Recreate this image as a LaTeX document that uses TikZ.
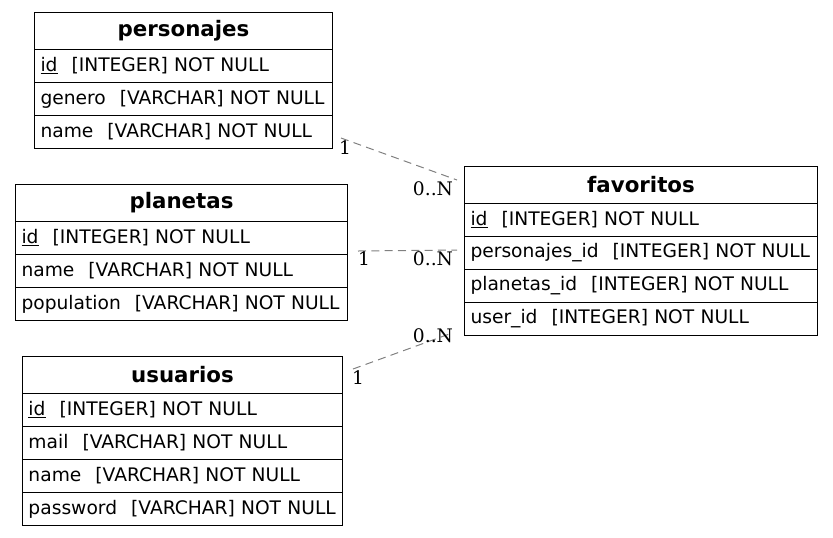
\documentclass[tikz,border=0pt]{standalone}
\usepackage{fontspec}
\setmainfont{DejaVu Sans}
\newfontfamily\lblfont{DejaVu Serif}
\begin{document}
\begin{tikzpicture}[x=0.75pt,y=-0.75pt,
  hdr/.style={draw=black, line width=0.75pt, anchor=north west, inner sep=0pt,
    minimum width={#1*0.75pt}, minimum height={37*0.75pt},
    font=\fontsize{16pt}{19pt}\selectfont\bfseries},
  fld/.style={draw=black, line width=0.75pt, anchor=north west, inner ysep=0pt, inner xsep={6*0.75pt},
    minimum width={#1*0.75pt}, text width={(#1-12)*0.75pt}, align=left, minimum height={33*0.75pt},
    font=\fontsize{14pt}{17pt}\selectfont},
  rel/.style={draw=gray, line width=0.75pt, dash pattern=on 6pt off 4pt},
  card/.style={inner sep=0pt, font=\lblfont\fontsize{14pt}{17pt}\selectfont}]
\newcommand{\gap}{\hspace{10.5pt}}
\useasboundingbox (0,0) rectangle (833,537);

% personajes
\node[hdr=298] (p0) at (34,12) {personajes};
\node[fld=298] (p1) at (34,49) {\underline{id}\gap[INTEGER] NOT NULL};
\node[fld=298] (p2) at (34,82) {genero\gap[VARCHAR] NOT NULL};
\node[fld=298] (p3) at (34,115) {name\gap[VARCHAR] NOT NULL};

% planetas
\node[hdr=332] (l0) at (15,184) {planetas};
\node[fld=332] (l1) at (15,221) {\underline{id}\gap[INTEGER] NOT NULL};
\node[fld=332] (l2) at (15,254) {name\gap[VARCHAR] NOT NULL};
\node[fld=332] (l3) at (15,287) {population\gap[VARCHAR] NOT NULL};

% usuarios
\node[hdr=320] (u0) at (22,356) {usuarios};
\node[fld=320] (u1) at (22,393) {\underline{id}\gap[INTEGER] NOT NULL};
\node[fld=320] (u2) at (22,426) {mail\gap[VARCHAR] NOT NULL};
\node[fld=320] (u3) at (22,459) {name\gap[VARCHAR] NOT NULL};
\node[fld=320] (u4) at (22,492) {password\gap[VARCHAR] NOT NULL};

% favoritos
\node[hdr=353] (f0) at (464,166) {favoritos};
\node[fld=353] (f1) at (464,203) {\underline{id}\gap[INTEGER] NOT NULL};
\node[fld=353] (f2) at (464,236) {personajes\_id\gap[INTEGER] NOT NULL};
\node[fld=353] (f3) at (464,269) {planetas\_id\gap[INTEGER] NOT NULL};
\node[fld=353] (f4) at (464,302) {user\_id\gap[INTEGER] NOT NULL};

% relationship end points
\coordinate (r1a) at (341,138);
\coordinate (r1b) at (457,180);
\coordinate (r2a) at (358,251);
\coordinate (r2b) at (457,250);
\coordinate (r3a) at (353,369);
\coordinate (r3b) at (452,333);

\draw[rel] (r1a) -- (r1b);
\draw[rel] (r2a) -- (r2b);
\draw[rel] (r3a) -- (r3b);

% cardinalities
\node[card] (k1a) at (345,148) {1};
\node[card] (k1b) at (433,189) {0..N};
\node[card] (k2a) at (364,259) {1};
\node[card] (k2b) at (433,259) {0..N};
\node[card] (k3a) at (358,378) {1};
\node[card] (k3b) at (433,336) {0..N};
\end{tikzpicture}
\end{document}
